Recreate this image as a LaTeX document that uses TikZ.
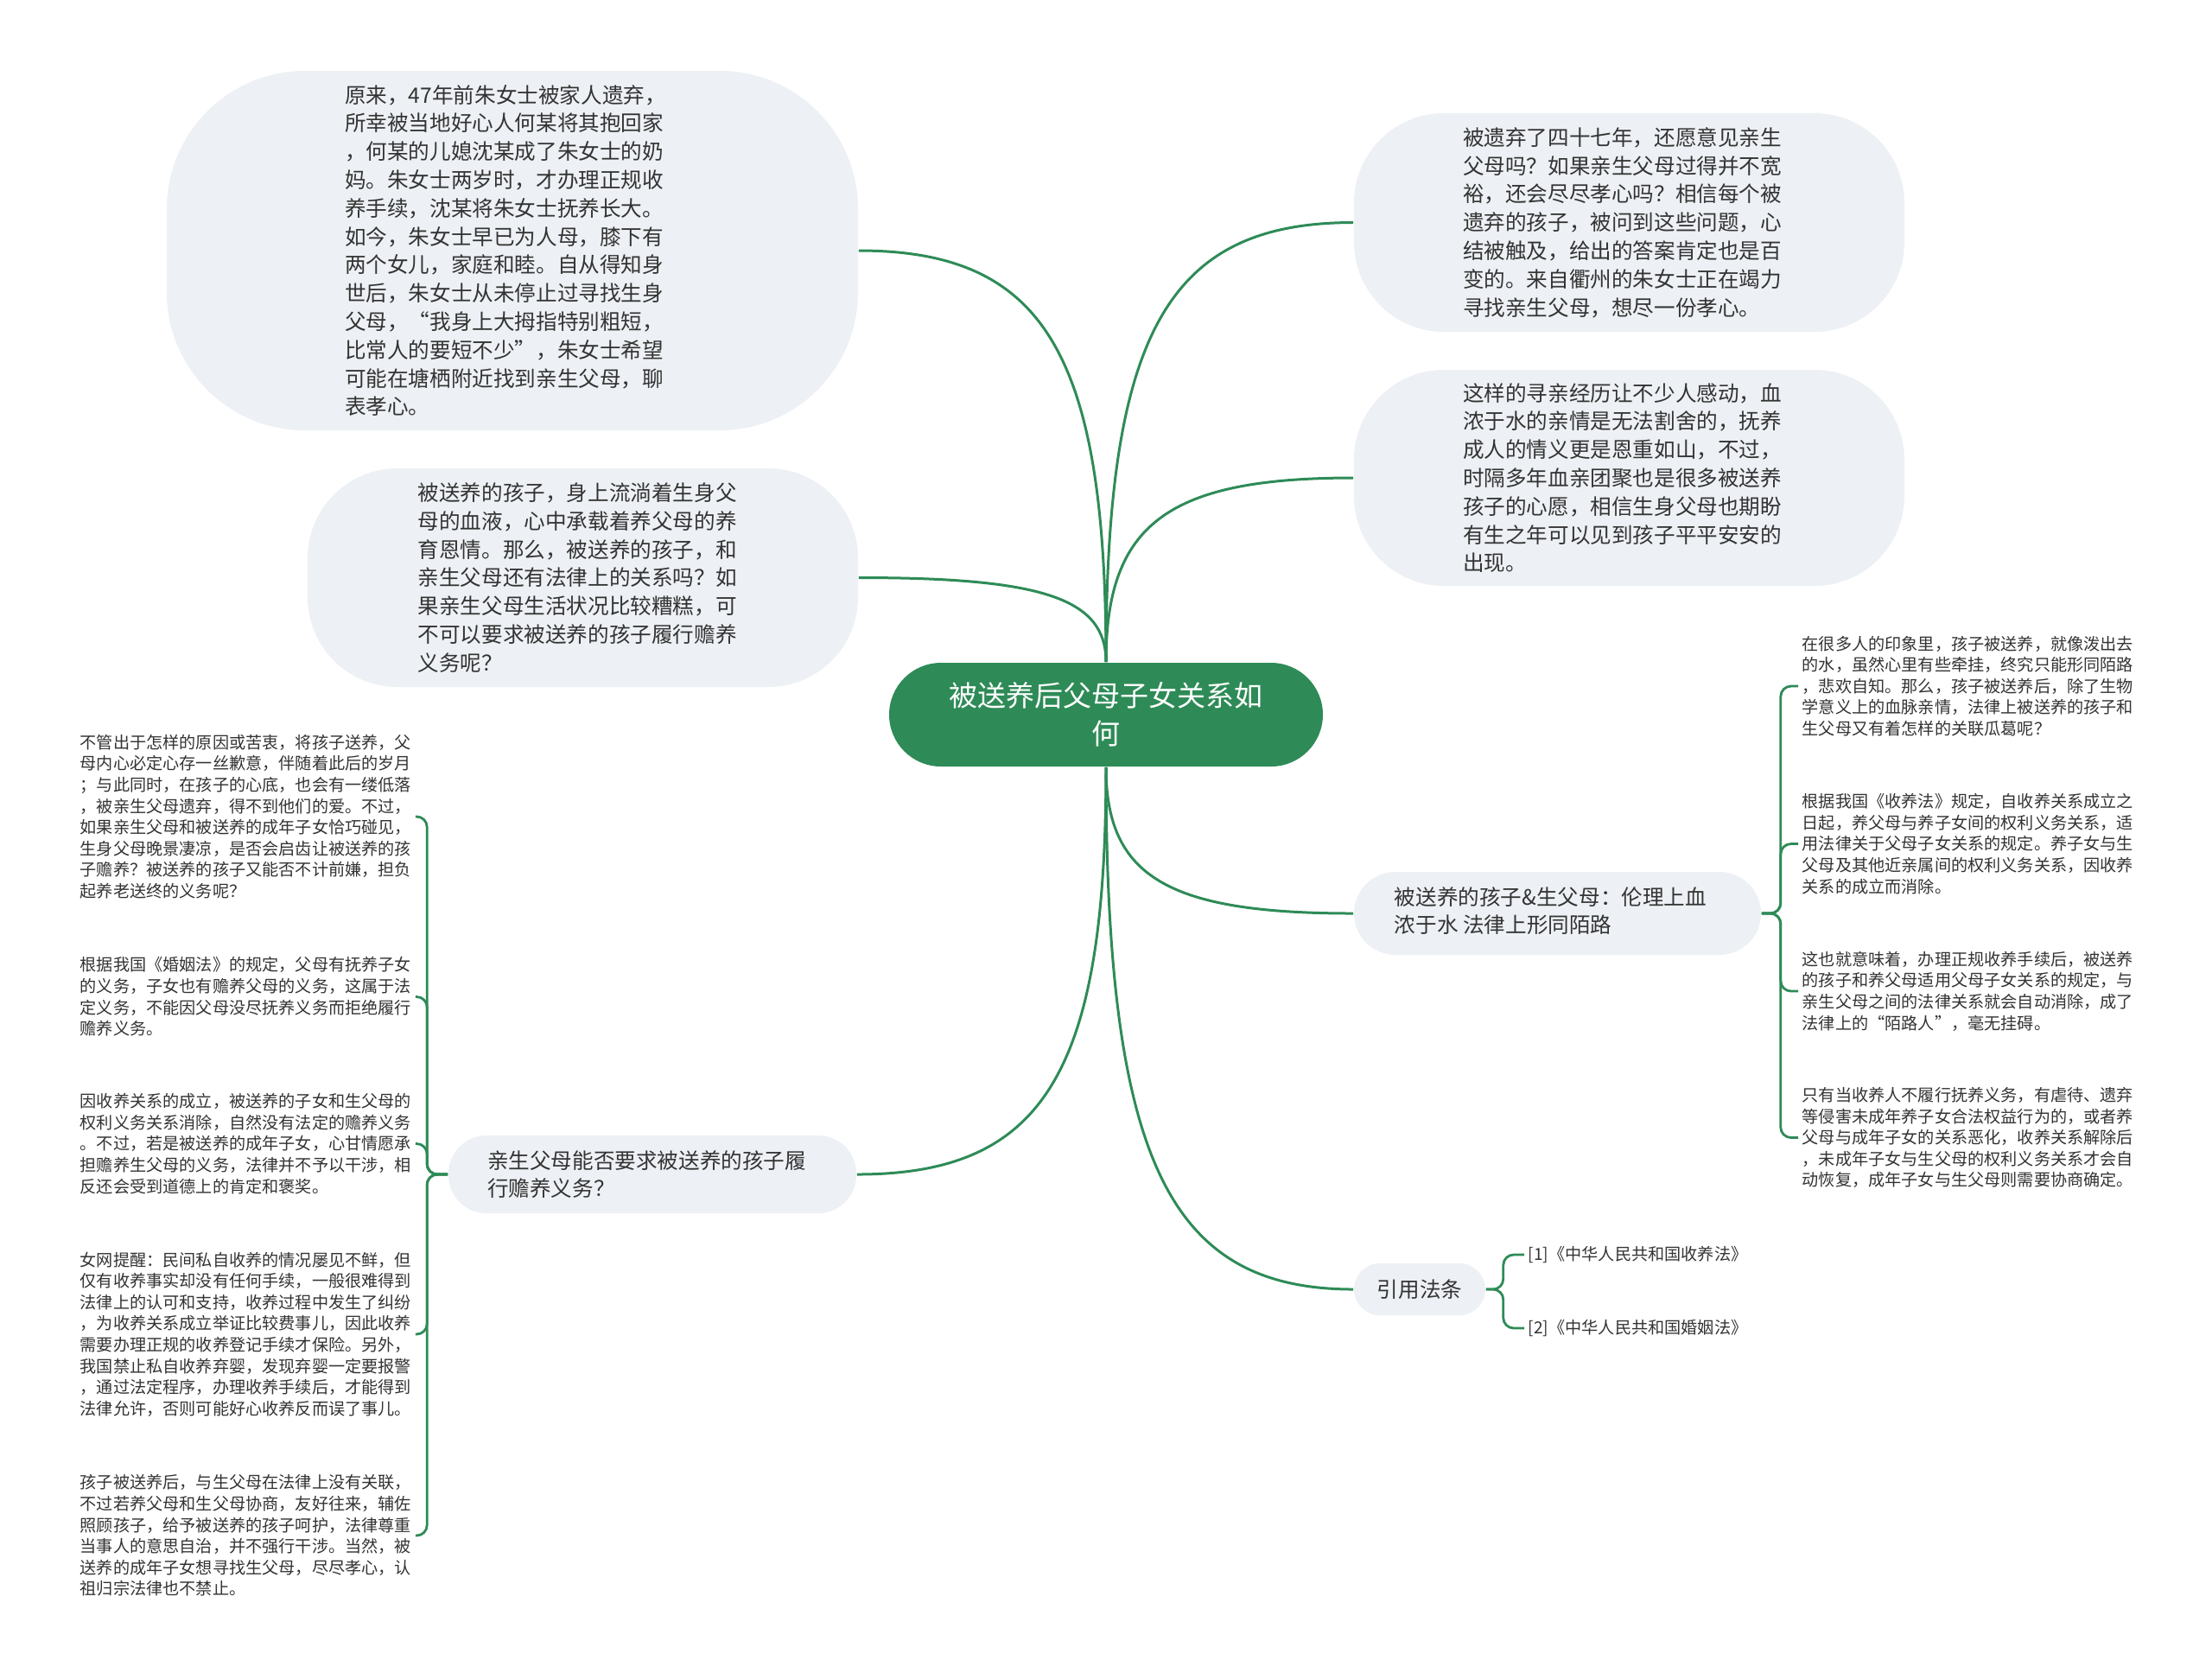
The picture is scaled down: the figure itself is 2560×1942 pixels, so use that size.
\documentclass[tikz,border=0pt]{standalone}
\usepackage{fontspec}
\setmainfont{Noto Sans CJK SC}
\usetikzlibrary{calc}
\definecolor{lk}{HTML}{2E8B57}
\definecolor{bub}{HTML}{EDF0F4}
\definecolor{txt}{HTML}{333333}
\begin{document}
\begin{tikzpicture}[x=0.25pt,y=-0.25pt,
  con/.style={draw=lk, line width=0.75pt},
  brk/.style={draw=lk, line width=0.7pt, rounded corners=3pt},
  bubshape/.style={fill=bub, inner sep=0pt},
  btext/.style={text=txt, align=left, inner sep=0pt, font=\fontsize{6.15pt}{8.2pt}\selectfont},
  leaf/.style={text=txt, align=left, inner sep=1pt, font=\fontsize{4.79pt}{6.15pt}\selectfont},
  centre/.style={fill=lk, text=white, align=center, inner sep=0pt, rounded corners=15pt, font=\fontsize{8.25pt}{11pt}\selectfont}]
\fill[white] (0,0) rectangle (2560,1942);
\useasboundingbox (0,0) rectangle (2560,1942);

% centre
\node[centre, minimum width=125.5pt, minimum height=30pt] (c) at (1280,827) {被送养后父母子女关系如\\何};

% bubbles (shape + text)
\node[bubshape, minimum width=200pt, minimum height=104pt, rounded corners=40pt] (tl) at (593,290) {};
\node[btext] (tlx) at ([xshift=-2pt]tl.center) {原来，47年前朱女士被家人遗弃，\\所幸被当地好心人何某将其抱回家\\，何某的儿媳沈某成了朱女士的奶\\妈。朱女士两岁时，才办理正规收\\养手续，沈某将朱女士抚养长大。\\如今，朱女士早已为人母，膝下有\\两个女儿，家庭和睦。自从得知身\\世后，朱女士从未停止过寻找生身\\父母，“我身上大拇指特别粗短，\\比常人的要短不少”，朱女士希望\\可能在塘栖附近找到亲生父母，聊\\表孝心。};
\node[bubshape, minimum width=159.25pt, minimum height=63.25pt, rounded corners=26pt] (ml) at (674.5,668.5) {};
\node[btext] (mlx) at ([xshift=-1.6pt]ml.center) {被送养的孩子，身上流淌着生身父\\母的血液，心中承载着养父母的养\\育恩情。那么，被送养的孩子，和\\亲生父母还有法律上的关系吗？如\\果亲生父母生活状况比较糟糕，可\\不可以要求被送养的孩子履行赡养\\义务呢？};
\node[bubshape, minimum width=159.25pt, minimum height=63.25pt, rounded corners=26pt] (tr1) at (1885.5,257.5) {};
\node[btext] (tr1x) at ([xshift=-2pt]tr1.center) {被遗弃了四十七年，还愿意见亲生\\父母吗？如果亲生父母过得并不宽\\裕，还会尽尽孝心吗？相信每个被\\遗弃的孩子，被问到这些问题，心\\结被触及，给出的答案肯定也是百\\变的。来自衢州的朱女士正在竭力\\寻找亲生父母，想尽一份孝心。};
\node[bubshape, minimum width=159.25pt, minimum height=62.5pt, rounded corners=26pt] (tr2) at (1885.5,553) {};
\node[btext] (tr2x) at ([xshift=-2pt]tr2.center) {这样的寻亲经历让不少人感动，血\\浓于水的亲情是无法割舍的，抚养\\成人的情义更是恩重如山，不过，\\时隔多年血亲团聚也是很多被送养\\孩子的心愿，相信生身父母也期盼\\有生之年可以见到孩子平平安安的\\出现。};

% branches
\node[bubshape, minimum width=117.75pt, minimum height=24pt, rounded corners=12pt] (rb) at (1802.5,1057) {};
\node[btext] (rbx) at ([xshift=-2pt,yshift=0.75pt]rb.center) {被送养的孩子\&生父母：伦理上血\\浓于水 法律上形同陌路};
\node[bubshape, minimum width=118pt, minimum height=22.5pt, rounded corners=11pt] (lb) at (755,1359) {};
\node[btext] (lbx) at ([xshift=-1.6pt]lb.center) {亲生父母能否要求被送养的孩子履\\行赡养义务？};
\node[bubshape, minimum width=38pt, minimum height=15pt, rounded corners=7.5pt] (yf) at (1643,1492) {};
\node[btext] (yfx) at (yf.center) {引用法条};

% right leaves
\node[leaf, anchor=west] (r1) at (2081,794) {在很多人的印象里，孩子被送养，就像泼出去\\的水，虽然心里有些牵挂，终究只能形同陌路\\，悲欢自知。那么，孩子被送养后，除了生物\\学意义上的血脉亲情，法律上被送养的孩子和\\生父母又有着怎样的关联瓜葛呢？};
\node[leaf, anchor=west] (r2) at (2081,976.5) {根据我国《收养法》规定，自收养关系成立之\\日起，养父母与养子女间的权利义务关系，适\\用法律关于父母子女关系的规定。养子女与生\\父母及其他近亲属间的权利义务关系，因收养\\关系的成立而消除。};
\node[leaf, anchor=west] (r3) at (2081,1147) {这也就意味着，办理正规收养手续后，被送养\\的孩子和养父母适用父母子女关系的规定，与\\亲生父母之间的法律关系就会自动消除，成了\\法律上的“陌路人”，毫无挂碍。};
\node[leaf, anchor=west] (r4) at (2081,1316.5) {只有当收养人不履行抚养义务，有虐待、遗弃\\等侵害未成年养子女合法权益行为的，或者养\\父母与成年子女的关系恶化，收养关系解除后\\，未成年子女与生父母的权利义务关系才会自\\动恢复，成年子女与生父母则需要协商确定。};

% left leaves
\node[leaf, anchor=west] (l1) at (88,945) {不管出于怎样的原因或苦衷，将孩子送养，父\\母内心必定心存一丝歉意，伴随着此后的岁月\\；与此同时，在孩子的心底，也会有一缕低落\\，被亲生父母遗弃，得不到他们的爱。不过，\\如果亲生父母和被送养的成年子女恰巧碰见，\\生身父母晚景凄凉，是否会启齿让被送养的孩\\子赡养？被送养的孩子又能否不计前嫌，担负\\起养老送终的义务呢？};
\node[leaf, anchor=west] (l2) at (88,1153.5) {根据我国《婚姻法》的规定，父母有抚养子女\\的义务，子女也有赡养父母的义务，这属于法\\定义务，不能因父母没尽抚养义务而拒绝履行\\赡养义务。};
\node[leaf, anchor=west] (l3) at (88,1323.5) {因收养关系的成立，被送养的子女和生父母的\\权利义务关系消除，自然没有法定的赡养义务\\。不过，若是被送养的成年子女，心甘情愿承\\担赡养生父母的义务，法律并不予以干涉，相\\反还会受到道德上的肯定和褒奖。};
\node[leaf, anchor=west] (l4) at (88,1544) {女网提醒：民间私自收养的情况屡见不鲜，但\\仅有收养事实却没有任何手续，一般很难得到\\法律上的认可和支持，收养过程中发生了纠纷\\，为收养关系成立举证比较费事儿，因此收养\\需要办理正规的收养登记手续才保险。另外，\\我国禁止私自收养弃婴，发现弃婴一定要报警\\，通过法定程序，办理收养手续后，才能得到\\法律允许，否则可能好心收养反而误了事儿。};
\node[leaf, anchor=west] (l5) at (88,1777) {孩子被送养后，与生父母在法律上没有关联，\\不过若养父母和生父母协商，友好往来，辅佐\\照顾孩子，给予被送养的孩子呵护，法律尊重\\当事人的意思自治，并不强行干涉。当然，被\\送养的成年子女想寻找生父母，尽尽孝心，认\\祖归宗法律也不禁止。};

% citations
\node[leaf, anchor=west] (f1) at (1764,1452) {[1]《中华人民共和国收养法》};
\node[leaf, anchor=west] (f2) at (1764,1537) {[2]《中华人民共和国婚姻法》};

% main connectors
\foreach \n/\a in {tl/east,ml/east,tr1/west,tr2/west}
  \draw[con] (c.north) .. controls ($(c.north)!0.75!(c.north |- \n.\a)$) and ($(\n.\a)!0.75!(c.north |- \n.\a)$) .. (\n.\a);
\foreach \n/\a in {rb/west,yf/west,lb/east}
  \draw[con] (c.south) .. controls ($(c.south)!0.75!(c.south |- \n.\a)$) and ($(\n.\a)!0.75!(c.south |- \n.\a)$) .. (\n.\a);

% brackets
\foreach \n in {r1,r2,r3,r4} \draw[brk] (rb.east) -- ++(22,0) |- (\n.west);
\foreach \n in {l1,l2,l3,l4,l5} \draw[brk] (lb.west) -- ++(-24,0) |- (\n.east);
\foreach \n in {f1,f2} \draw[brk] (yf.east) -- ++(20,0) |- (\n.west);
\end{tikzpicture}
\end{document}
